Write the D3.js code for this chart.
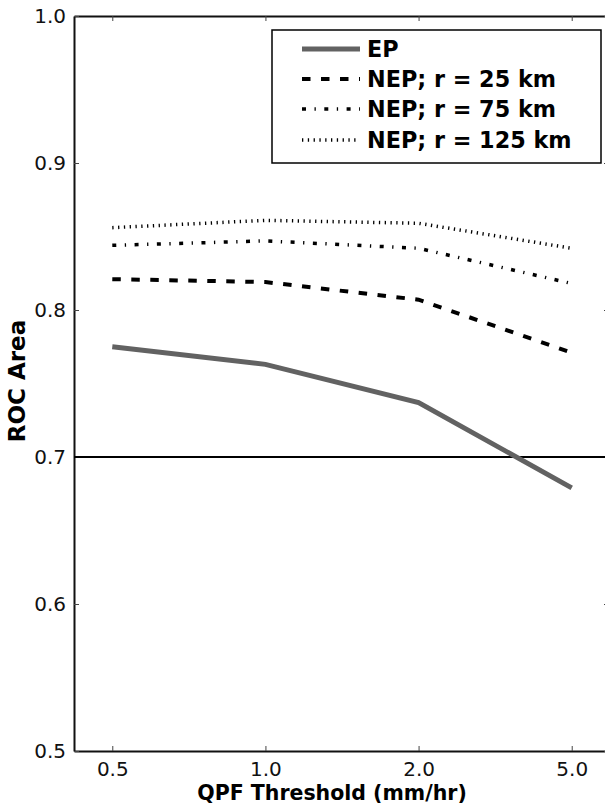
<!DOCTYPE html>
<html>
<head>
<meta charset="utf-8">
<script src="https://cdn.jsdelivr.net/npm/d3@7"></script>
<style>
  html, body { margin: 0; padding: 0; background: #fff; overflow: hidden; }
  svg { display: block; font-family: "DejaVu Sans", sans-serif; overflow: hidden; }
</style>
</head>
<body>
<svg id="chart" width="605" height="804"></svg>
<script>
// QPF thresholds (mm/hr) and ROC area for each forecast type
const thresholds = ["0.5", "1.0", "2.0", "5.0"];
const ep      = [0.775, 0.763, 0.737, 0.679];
const nep25   = [0.821, 0.819, 0.807, 0.771];
const nep75   = [0.844, 0.847, 0.842, 0.818];
const nep125  = [0.856, 0.861, 0.859, 0.842];
const yTicks  = [0.5, 0.6, 0.7, 0.8, 0.9, 1.0];
const refLevel = 0.7;

const series = [
  { name: "EP",                values: ep,     color: "#626262", width: 5,   dash: null },
  { name: "NEP; r = 25 km",    values: nep25,  color: "#000",    width: 4,   dash: "8.5,10.5" },
  { name: "NEP; r = 75 km",    values: nep75,  color: "#000",    width: 3.5, dash: "4,8.5,1.3,8.5" },
  { name: "NEP; r = 125 km",   values: nep125, color: "#000",    width: 3.5, dash: "1.3,4.5" }
];

const svg = d3.select("#chart");
const plotLeft = 74, plotRight = 610, plotTop = 16, plotBottom = 751;

const x = d3.scalePoint().domain(thresholds).range([plotLeft, plotRight]).padding(0.25);
const y = d3.scaleLinear().domain([0.5, 1.0]).range([plotBottom, plotTop]);

const fmt = d3.format(".1f");

// Axes with inward ticks on all four sides
const gx = svg.append("g").attr("transform", `translate(0,${plotBottom})`)
  .call(d3.axisBottom(x).tickSizeInner(-5).tickSizeOuter(0).tickPadding(11));
const gxTop = svg.append("g").attr("transform", `translate(0,${plotTop})`)
  .call(d3.axisTop(x).tickSizeInner(-5).tickSizeOuter(0).tickFormat(""));
const gy = svg.append("g").attr("transform", `translate(${plotLeft},0)`)
  .call(d3.axisLeft(y).tickValues(yTicks).tickFormat(fmt).tickSizeInner(-5).tickSizeOuter(0).tickPadding(8));
const gyRight = svg.append("g").attr("transform", `translate(${plotRight},0)`)
  .call(d3.axisRight(y).tickValues(yTicks).tickFormat("").tickSizeInner(-6).tickSizeOuter(0));
// the right frame edge falls outside the drawing width
gyRight.select(".domain").remove();

[gx, gxTop, gy, gyRight].forEach(g => {
  g.select(".domain").attr("stroke", "#111").attr("stroke-width", 2);
  g.selectAll(".tick line").attr("stroke", "#444").attr("stroke-width", 1);
  g.selectAll(".tick text").attr("font-size", 20).attr("fill", "#111")
    .attr("font-family", "DejaVu Sans, sans-serif");
});

// Reference line at ROC area 0.7
svg.append("line")
  .attr("x1", plotLeft).attr("x2", plotRight)
  .attr("y1", y(refLevel)).attr("y2", y(refLevel))
  .attr("stroke", "#000").attr("stroke-width", 2);

// Series lines
const line = d3.line().x((d, i) => x(thresholds[i])).y(d => y(d));
series.forEach(s => {
  svg.append("path")
    .datum(s.values)
    .attr("d", line)
    .attr("fill", "none")
    .attr("stroke", s.color)
    .attr("stroke-width", s.width)
    .attr("stroke-dasharray", s.dash)
    .attr("stroke-linejoin", "miter");
});

// Legend
const legend = svg.append("g");
legend.append("rect")
  .attr("x", 272).attr("y", 30).attr("width", 329).attr("height", 133)
  .attr("fill", "#fff").attr("stroke", "#000").attr("stroke-width", 1.5);
const rowY = [49, 79, 109, 140];
series.forEach((s, i) => {
  legend.append("line")
    .attr("x1", 302).attr("x2", 360)
    .attr("y1", rowY[i]).attr("y2", rowY[i])
    .attr("stroke", s.color).attr("stroke-width", s.width)
    .attr("stroke-dasharray", s.dash);
  legend.append("text")
    .attr("x", 367).attr("y", rowY[i]).attr("dy", "0.36em")
    .attr("font-size", 22.3).attr("font-weight", "bold").attr("fill", "#000")
    .text(s.name);
});

// Axis titles
svg.append("text")
  .attr("x", 332).attr("y", 800)
  .attr("text-anchor", "middle")
  .attr("font-size", 20.5).attr("font-weight", "bold")
  .text("QPF Threshold (mm/hr)");
svg.append("text")
  .attr("transform", `translate(25,381) rotate(-90)`)
  .attr("text-anchor", "middle")
  .attr("font-size", 23).attr("font-weight", "bold")
  .text("ROC Area");
</script>
</body>
</html>
